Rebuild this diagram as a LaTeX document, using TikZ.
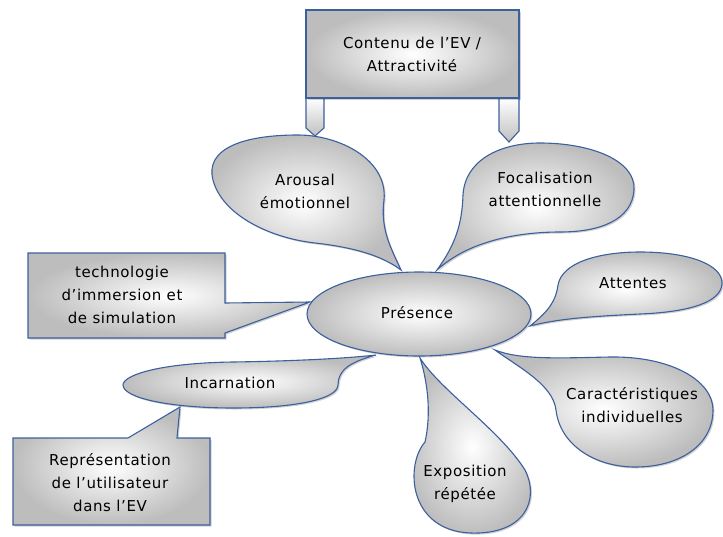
\documentclass[tikz,border=0pt]{standalone}
\usepackage{fontspec}
\setmainfont{DejaVu Sans}[LetterSpace=4]
\usetikzlibrary{shapes.geometric,shadows}
\definecolor{bord}{RGB}{60,95,158}
\tikzset{
  shp/.style={draw=bord, line width=1.1pt, inner color=white, outer color=gray!52,
    drop shadow={shadow xshift=1.5pt, shadow yshift=-1.5pt, opacity=0.18, fill=black}},
  tab/.style={draw=bord, line width=1.1pt, top color=white, bottom color=gray!50},
  lbl/.style={align=center, font=\fontsize{15}{23}\selectfont, text=black}
}
\begin{document}
\begin{tikzpicture}[x=1pt,y=-1pt]
\useasboundingbox (0,0) rectangle (723,536);

% Arousal
\path[shp] (401,270) .. controls (392,250) and (380,230) .. (384,200)
  .. controls (388,160) and (340,135) .. (298,135)
  .. controls (240,135) and (205,150) .. (213,180)
  .. controls (222,215) and (270,238) .. (315,243)
  .. controls (360,248) and (385,258) .. (401,270) -- cycle;
% Focalisation
\path[shp] (437,270) .. controls (455,245) and (462,225) .. (463,195)
  .. controls (465,160) and (500,143) .. (540,143)
  .. controls (590,143) and (636,160) .. (634,190)
  .. controls (632,220) and (600,232) .. (560,232)
  .. controls (520,232) and (470,240) .. (437,270) -- cycle;
% Attentes
\path[shp] (530,326) .. controls (550,310) and (556,300) .. (558,285)
  .. controls (562,262) and (600,252) .. (640,252)
  .. controls (690,252) and (722,265) .. (722,283)
  .. controls (722,302) and (690,312) .. (640,314)
  .. controls (600,316) and (560,318) .. (530,326) -- cycle;
% Caracteristiques
\path[shp] (495,350) .. controls (520,360) and (560,358) .. (610,357)
  .. controls (670,356) and (713,380) .. (713,410)
  .. controls (713,445) and (680,467) .. (635,467)
  .. controls (595,467) and (560,445) .. (556,410)
  .. controls (553,385) and (520,368) .. (495,350) -- cycle;
% Exposition
\path[shp] (420,358) .. controls (430,390) and (430,420) .. (425,442)
  .. controls (405,465) and (408,530) .. (470,533)
  .. controls (525,535) and (540,500) .. (525,470)
  .. controls (500,430) and (440,390) .. (420,358) -- cycle;
% Incarnation
\path[shp] (376,355) .. controls (350,358) and (300,361) .. (233,362)
  .. controls (160,363) and (123,375) .. (123,385)
  .. controls (123,398) and (170,408) .. (233,408)
  .. controls (300,408) and (338,398) .. (338,385)
  .. controls (338,370) and (350,362) .. (376,355) -- cycle;
% technologie box
\path[shp] (28,253) -- (225,253) -- (225,303) -- (310,302) -- (225,333) -- (225,338) -- (28,338) -- cycle;
% Representation box
\path[shp] (13,438) -- (128,438) -- (180,407) -- (177,438) -- (210,438) -- (210,525) -- (13,525) -- cycle;
% top box and tabs
\path[tab] (306,98) -- (324,98) -- (324,128) -- (315,136) -- (306,128) -- cycle;
\path[tab] (499,98) -- (519,98) -- (519,131) -- (509,142) -- (499,131) -- cycle;
\path[shp] (306,10) rectangle (519,98);

% Presence
\node[shp, ellipse, minimum width=224pt, minimum height=84pt] (pres) at (419,314) {};

\node[lbl] (contenu) at (412,54) {Contenu de l’EV /\\Attractivité};
\node[lbl] (arousal) at (305,191) {Arousal\\émotionnel};
\node[lbl] (focal) at (545,189) {Focalisation\\attentionnelle};
\node[lbl] (attentes) at (633,283) {Attentes};
\node[lbl] (carac) at (632,405) {Caractéristiques\\individuelles};
\node[lbl] (expo) at (465,484) {Exposition\\répétée};
\node[lbl] (presence) at (417,313) {Présence};
\node[lbl] (incarn) at (230,383) {Incarnation};
\node[lbl] (techno) at (122,295) {technologie\\d’immersion et\\de simulation};
\node[lbl] (repres) at (110,483) {Représentation\\de l’utilisateur\\dans l’EV};
\end{tikzpicture}
\end{document}
